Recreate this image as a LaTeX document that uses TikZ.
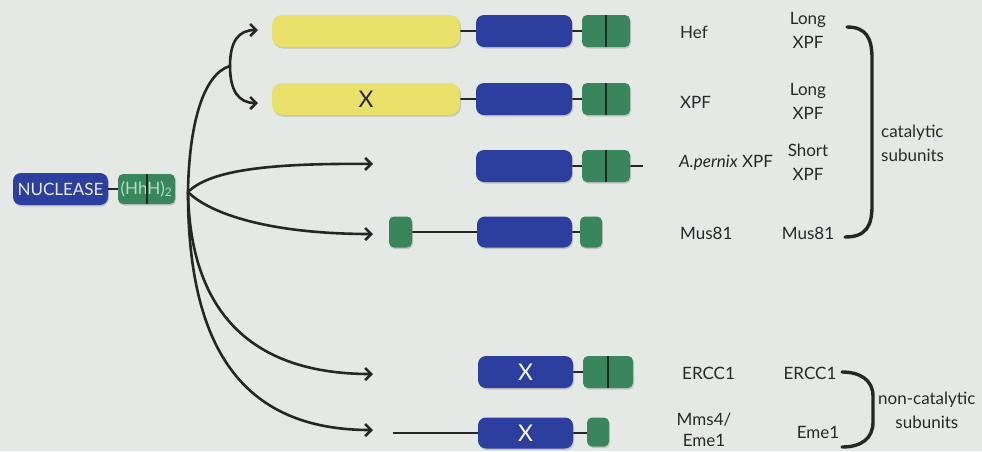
\documentclass[tikz,border=0pt]{standalone}
\usepackage{fontspec}
\setmainfont{Lato}
\usetikzlibrary{arrows.meta,shadows}

\definecolor{bgcol}{RGB}{228,233,230}
\definecolor{ycol}{RGB}{232,224,104}
\definecolor{bcol}{RGB}{44,62,158}
\definecolor{gcol}{RGB}{58,134,92}
\definecolor{txtcol}{RGB}{40,40,40}
\definecolor{hhhcol}{RGB}{178,222,186}

\begin{document}
\begin{tikzpicture}[
    x = 1pt,
    y = -1pt,
    >={Straight Barb[length=6pt, width=12pt]},
    font = \fontsize{17}{24}\selectfont,
    box/.style = {
      rectangle,
      inner sep = 0pt,
      minimum height = 32,
      drop shadow = {shadow xshift=1pt, shadow yshift=-1.5pt, opacity=0.35}
    },
    yellowbox/.style = {box, fill = ycol, rounded corners = 10pt},
    bluebox/.style = {box, fill = bcol, rounded corners = 8pt},
    greenbox/.style = {box, fill = gcol, rounded corners = 5pt},
    link/.style = {line width = 2.4pt, black!85},
    bar/.style = {line width = 2pt, black!85},
    arrow/.style = {->, line width = 2.6pt, black!85},
    brace/.style = {line width = 3.4pt, black!85, line cap = round},
    label/.style = {text = txtcol, align = center, inner sep = 0pt},
    cross/.style = {font = \fontsize{23}{24}\selectfont}
  ]
  \fill[bgcol] (0,0) rectangle (982,451);
  \useasboundingbox (0,0) rectangle (982,451);

  % the starting protein
  \node[bluebox, minimum width = 95, text = white!92!blue] (nuc) at (60.5,189) {NUCLEASE};
  \node[greenbox, minimum width = 57, minimum height = 30, text = hhhcol] (hhh) at (146.5,189) {(HhH)\textsubscript{2}};
  \draw[link] (nuc.east) -- (hhh.west);
  \draw[bar] (hhh.north) -- (hhh.south);

  \coordinate (hub) at (188,192);
  \coordinate (fork) at (230,66);
  \coordinate (tipHef) at (258,30);
  \coordinate (tipXpf) at (258,103);
  \coordinate (tipApe) at (373,164);
  \coordinate (tipMus) at (373,234);
  \coordinate (tipErc) at (373,374);
  \coordinate (tipMms) at (373,430);

  \draw[arrow, -] (hub) .. controls (189,125) and (203,74) .. (fork);
  \draw[arrow] (fork) .. controls (230,42) and (238,30) .. (tipHef);
  \draw[arrow] (fork) .. controls (230,90) and (238,103) .. (tipXpf);
  \draw[arrow] (hub) .. controls (210,170) and (270,163) .. (tipApe);
  \draw[arrow] (hub) .. controls (210,214) and (270,234) .. (tipMus);
  \draw[arrow] (hub) .. controls (190,300) and (240,374) .. (tipErc);
  \draw[arrow] (hub) .. controls (188,345) and (240,430) .. (tipMms);

  % Hef
  \draw[link] (460,31) -- (582,31);
  \node[yellowbox, minimum width = 188] (hefY) at (366,31) {};
  \node[bluebox, minimum width = 96] (hefB) at (524,31) {};
  \node[greenbox, minimum width = 48] (hefG) at (606,31) {};
  \draw[bar] (hefG.north) -- (hefG.south);

  % XPF
  \draw[link] (460,99) -- (582,99);
  \node[yellowbox, cross, minimum width = 188, text = txtcol] (xpfY) at (366,99) {X};
  \node[bluebox, minimum width = 96] (xpfB) at (524,99) {};
  \node[greenbox, minimum width = 48] (xpfG) at (606,99) {};
  \draw[bar] (xpfG.north) -- (xpfG.south);

  % A. pernix XPF
  \draw[link] (572,166) -- (643,166);
  \node[bluebox, minimum width = 96] (apeB) at (524,166) {};
  \node[greenbox, minimum width = 48] (apeG) at (606,166) {};
  \draw[bar] (apeG.north) -- (apeG.south);

  % Mus81
  \draw[link] (400,232) -- (591,232);
  \node[greenbox, minimum width = 23, minimum height = 31] (musN) at (400.5,232) {};
  \node[bluebox, minimum width = 95, minimum height = 31] (musB) at (524.5,232) {};
  \node[greenbox, minimum width = 22, minimum height = 31] (musC) at (591,232) {};

  % ERCC1
  \draw[link] (573,372) -- (583,372);
  \node[bluebox, cross, minimum width = 95, text = white] (ercB) at (525.5,372) {X};
  \node[greenbox, minimum width = 50] (ercG) at (608,372) {};
  \draw[bar] (ercG.north) -- (ercG.south);

  % Mms4/Eme1
  \draw[link] (393,433) -- (598,433);
  \node[bluebox, cross, minimum width = 95, minimum height = 31, text = white] (mmsB) at (525.5,433) {X};
  \node[greenbox, minimum width = 22, minimum height = 29] (mmsG) at (598,432) {};

  % names
  \node[label, anchor = west] (nHef) at (680,32) {Hef};
  \node[label, anchor = west] (nXpf) at (680,102) {XPF};
  \node[label, anchor = west] (nApe) at (679,163) {\textit{A.pernix} XPF};
  \node[label, anchor = west] (nMus) at (680,233) {Mus81};
  \node[label, anchor = west] (nErc) at (682,373) {ERCC1};
  \node[label] (nMms) at (704,430) {Mms4/\\[-3pt]Eme1};

  \node[label] (kHef) at (808,30) {Long\\XPF};
  \node[label] (kXpf) at (808,101) {Long\\XPF};
  \node[label] (kApe) at (808,162) {Short\\XPF};
  \node[label] (kMus) at (808,233) {Mus81};
  \node[label] (kErc) at (810,373) {ERCC1};
  \node[label] (kMms) at (818,432) {Eme1};

  % brackets
  \coordinate (catTop) at (847,27);
  \coordinate (catBot) at (845,237);
  \coordinate (nonTop) at (842,372);
  \coordinate (nonBot) at (842,447);
  \draw[brace] (catTop) .. controls (866,27) and (872,38) .. (872,58) -- (872,206)
    .. controls (872,226) and (866,237) .. (catBot);
  \draw[brace] (nonTop) .. controls (860,372) and (873,380) .. (873,396) -- (873,422)
    .. controls (873,438) and (862,447) .. (nonBot);

  \node[label, align = left, anchor = west] (cat) at (881,143) {catalytic\\subunits};
  \node[label, anchor = west] (noncat) at (878,410) {non-catalytic\\subunits};
\end{tikzpicture}
\end{document}
